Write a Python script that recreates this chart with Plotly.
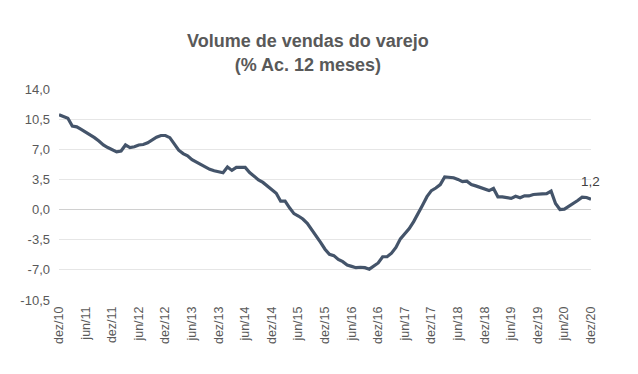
import plotly.graph_objects as go

values = [
    11.0, 10.8, 10.6, 9.7, 9.6, 9.3, 9.0, 8.7, 8.35, 7.95,
    7.5, 7.2, 6.95, 6.7, 6.8, 7.5, 7.2, 7.3, 7.5, 7.55,
    7.75, 8.1, 8.4, 8.6, 8.6, 8.35, 7.6, 6.9, 6.5, 6.25,
    5.8, 5.5, 5.3, 4.95, 4.67, 4.5, 4.35, 4.28, 4.95, 4.55,
    4.9, 4.9, 4.9, 4.3, 3.85, 3.45, 3.15, 2.75, 2.3, 1.9,
    0.97, 0.97, 0.2, -0.47, -0.75, -1.1, -1.6, -2.3, -3.0, -3.8,
    -4.6, -5.2, -5.35, -5.8, -6.05, -6.45, -6.6, -6.75, -6.7, -6.75,
    -6.92, -6.55, -6.2, -5.48, -5.48, -5.06, -4.4, -3.4, -2.85, -2.2,
    -1.4, -0.5, 0.5, 1.5, 2.2, 2.5, 2.9, 3.8, 3.72, 3.7,
    3.5, 3.25, 3.3, 2.9, 2.75, 2.55, 2.3, 2.2, 2.45, 1.48,
    1.48, 1.4, 1.3, 1.55, 1.38, 1.6, 1.58, 1.75, 1.83, 1.83,
    1.85, 2.14, 0.7, 0.0, 0.05, 0.35, 0.65, 1.05, 1.44, 1.4,
    1.2,
]
month_index = list(range(len(values)))

x_tick_positions = list(range(0, 121, 6))
x_tick_labels = [
    "dez/10", "jun/11", "dez/11", "jun/12", "dez/12", "jun/13", "dez/13",
    "jun/14", "dez/14", "jun/15", "dez/15", "jun/16", "dez/16", "jun/17",
    "dez/17", "jun/18", "dez/18", "jun/19", "dez/19", "jun/20", "dez/20",
]
y_tick_values = [-10.5, -7.0, -3.5, 0.0, 3.5, 7.0, 10.5, 14.0]
y_tick_labels = ["-10,5", "-7,0", "-3,5", "0,0", "3,5", "7,0", "10,5", "14,0"]
last_label = "1,2"

fig = go.Figure()
fig.add_trace(go.Scatter(
    x=month_index, y=values, mode="lines",
    line=dict(color="#44546A", width=3.2),
    hoverinfo="skip", showlegend=False,
))
fig.add_annotation(
    x=month_index[-1], y=values[-1], text=last_label, showarrow=False,
    yshift=18, xshift=-1, font=dict(size=13.5, color="#404040"),
)

# page body has an 8px margin, so the figure is drawn 8px right/down
fig.update_layout(
    width=630, height=366,
    margin=dict(l=51, r=47, t=81, b=74),
    paper_bgcolor="white", plot_bgcolor="white",
    font=dict(family="Liberation Sans, Arial, sans-serif", color="#595959", size=12),
    title=dict(
        text="<b>Volume de vendas do varejo<br>(% Ac. 12 meses)</b>",
        x=0.476, xanchor="center", y=0.893, yanchor="top",
        font=dict(size=18, color="#595959"),
    ),
    xaxis=dict(
        range=[0, 120], tickvals=x_tick_positions, ticktext=x_tick_labels,
        tickangle=-90, showgrid=False, zeroline=False, showline=False,
        ticks="", ticklabelstandoff=3, tickfont=dict(size=12.5, color="#595959"),
    ),
    yaxis=dict(
        range=[-10.5, 14.0], tickvals=y_tick_values, ticktext=y_tick_labels,
        showgrid=True, gridcolor="#E6E6E6", gridwidth=1,
        zeroline=True, zerolinecolor="#D0D0D0", zerolinewidth=1,
        ticks="", ticklabelstandoff=8, tickfont=dict(size=13, color="#595959"),
    ),
)

fig.write_html("out.html")
